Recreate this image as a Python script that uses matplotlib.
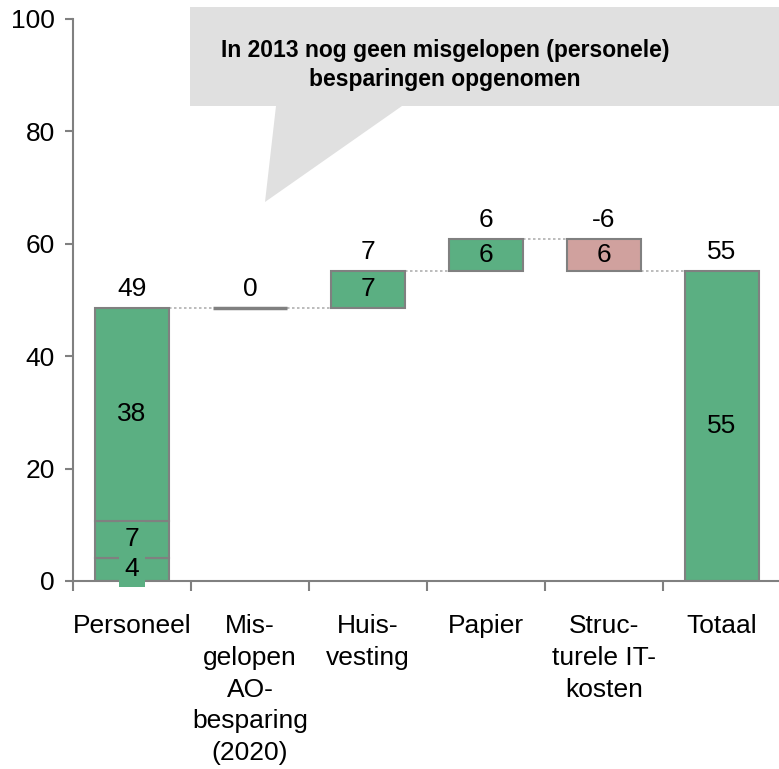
import matplotlib
matplotlib.use("Agg")
import matplotlib.pyplot as plt
from matplotlib.patches import Polygon
import numpy as np

plt.rcParams['font.family'] = ['Liberation Sans', 'DejaVu Sans']

categories = ["Personeel", "Mis-\ngelopen\nAO-\nbesparing\n(2020)", "Huis-\nvesting",
              "Papier", "Struc-\nturele IT-\nkosten", "Totaal"]
personeel_parts = [4.1, 6.6, 37.9]
changes = [0.0, 6.6, 5.7, -5.7]
yticks = [0, 20, 40, 60, 80, 100]
callout_text = "In 2013 nog geen misgelopen (personele)\nbesparingen opgenomen"

GREEN = "#5BAF82"
PINK = "#D0A19E"
EDGE = "#808080"
FS = 19

fig = plt.figure(figsize=(7.79, 7.69), dpi=100)
ax = fig.add_axes([0.0937, 0.2445, 0.9089, 0.7308])
ax.set_xlim(-0.5, 5.5)
ax.set_ylim(0, 100)
W = 0.63

# Personeel stacked
bottom = 0.0
for v in personeel_parts:
    ax.bar(0, v, bottom=bottom, width=W, color=GREEN, edgecolor=EDGE, linewidth=1.5, zorder=2)
    ax.text(0, bottom + v / 2, f"{round(v):d}", ha='center', va='center', fontsize=FS, zorder=5,
            clip_on=False, bbox=dict(boxstyle='square,pad=0.2', fc=GREEN, ec='none'))
    bottom += v
level = bottom
ax.annotate(f"{round(level):d}", (0, level), xytext=(0, 5), textcoords='offset points',
            ha='center', va='bottom', fontsize=FS)

# changes
levels = [level]
for i, c in enumerate(changes, start=1):
    lo = level if c >= 0 else level + c
    color = GREEN if c >= 0 else PINK
    ax.bar(i, abs(c), bottom=lo, width=W, color=color, edgecolor=EDGE,
           linewidth=1.5 if c != 0 else 2.5, zorder=2)
    if c != 0:
        ax.text(i, lo + abs(c) / 2, f"{round(abs(c)):d}", ha='center', va='center', fontsize=FS, zorder=5)
    top = max(level, level + c)
    ax.annotate(f"{round(c):d}", (i, top), xytext=(0, 5), textcoords='offset points',
                ha='center', va='bottom', fontsize=FS)
    level = level + c
    levels.append(level)

# total
total = level
ax.bar(5, total, width=W, color=GREEN, edgecolor=EDGE, linewidth=1.5, zorder=2)
ax.text(5, total / 2, f"{round(total):d}", ha='center', va='center', fontsize=FS, zorder=5)
ax.annotate(f"{round(total):d}", (5, total), xytext=(0, 5), textcoords='offset points',
            ha='center', va='bottom', fontsize=FS)

# connectors
for i, lv in enumerate(levels):
    ax.plot([i + W / 2, i + 1 - W / 2], [lv, lv], color="#B0B0B0", linestyle=(0, (1.5, 1.5)),
            linewidth=1.2, zorder=1)

# axes styling
for s in ['top', 'right']:
    ax.spines[s].set_visible(False)
for s in ['left', 'bottom']:
    ax.spines[s].set_color(EDGE)
    ax.spines[s].set_linewidth(1.5)
ax.set_yticks(yticks)
ax.set_yticklabels([str(t) for t in yticks], fontsize=FS)
ax.tick_params(axis='y', length=6, width=1.5, color=EDGE, pad=7)
ax.set_xticks(np.arange(len(categories)))
ax.set_xticklabels(categories, fontsize=FS, linespacing=1.4)
ax.tick_params(axis='x', length=0, pad=24)
ax.set_xticks(np.arange(len(categories) + 1) - 0.5, minor=True)
ax.tick_params(axis='x', which='minor', length=7, width=1.5, color=EDGE)

# callout (figure pixel coordinates)
H = 769
def fp(x, y):
    return (x / 779, 1 - y / H)
pts = [fp(190, 106), fp(190, 7), fp(800, 7), fp(800, 106), fp(402, 106), fp(265, 202), fp(276, 106)]
fig.patches.append(Polygon(pts, closed=True, transform=fig.transFigure, facecolor="#E0E0E0",
                           edgecolor='none', zorder=0))
fig.text(445 / 779, 1 - 65 / H, callout_text, ha='center', va='center', fontsize=16.5,
         fontweight='bold', linespacing=1.35)

fig.savefig("out.png", dpi=100)
